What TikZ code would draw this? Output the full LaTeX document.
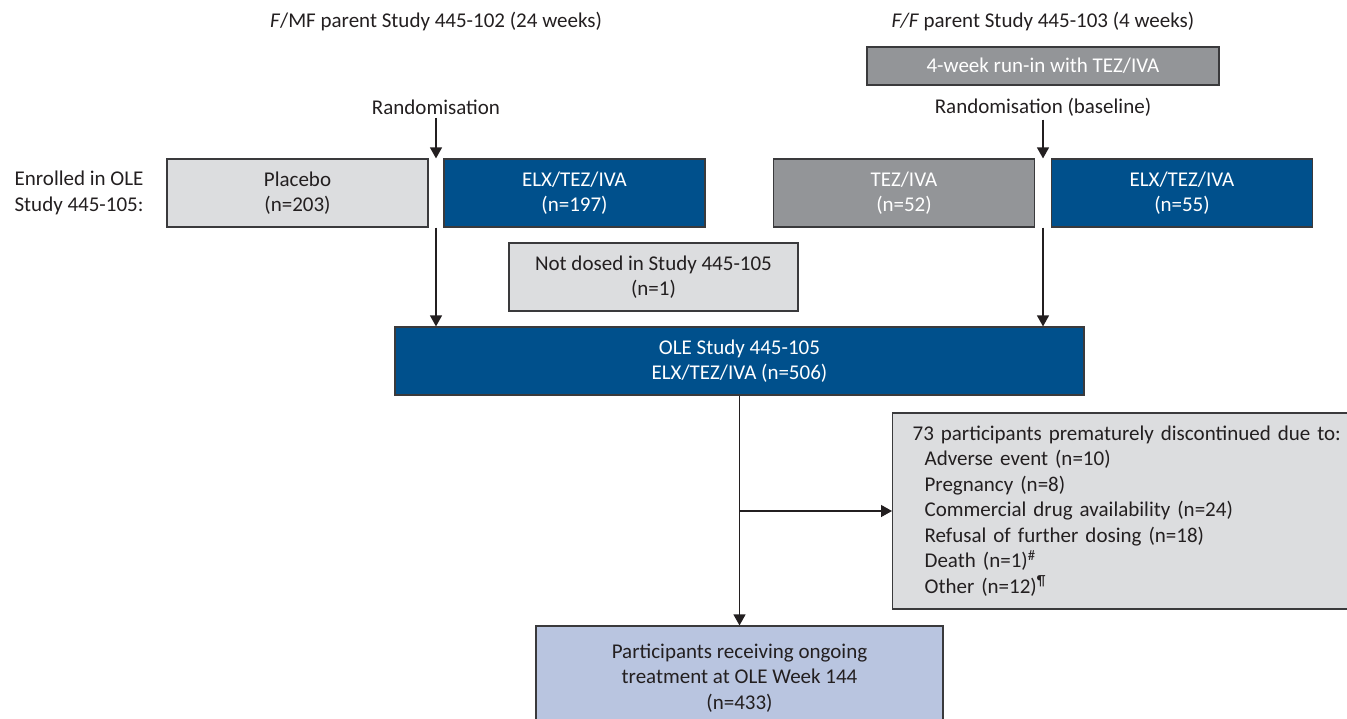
\documentclass[tikz,border=0pt]{standalone}
\usepackage{fontspec}
\setmainfont{Carlito}
\usetikzlibrary{arrows.meta,positioning}
\definecolor{oleblue}{HTML}{00508C}
\definecolor{palegrey}{HTML}{DCDDDF}
\definecolor{midgrey}{HTML}{939598}
\definecolor{paleblue}{HTML}{B9C5E0}
\definecolor{txtgrey}{HTML}{231F20}
\definecolor{edgegrey}{HTML}{3A3A3C}
\begin{document}
\begin{tikzpicture}[x=1pt,y=-1pt,
	every node/.style={font=\fontsize{21}{25.5}\selectfont, text=txtgrey},
	box/.style={draw=edgegrey, line width=1.2pt, align=center, inner sep=0pt, minimum width=261pt, minimum height=68pt},
	bluebox/.style={box, fill=oleblue, text=white},
	greybox/.style={box, fill=palegrey},
	darkbox/.style={box, fill=midgrey, text=white},
	arr/.style={draw=txtgrey, line width=1.3pt, -{Triangle[width=12pt,length=11pt]}}]
	\useasboundingbox (0,0) rectangle (1347,718);
	% parent studies
	\node (fmf) at (436,22) {\textit{F}/MF parent Study 445-102 (24 weeks)};
	\node (ff) at (1043,22) {\textit{F/F} parent Study 445-103 (4 weeks)};
	\node[darkbox, minimum width=352pt, minimum height=38pt] (runin) at (1043,66) {4-week run-in with TEZ/IVA};
	\node (rand1) at (436,107) {Randomisation};
	\node (rand2) at (1043,107) {Randomisation (baseline)};
	\node[align=right, anchor=east] (enrol) at (147,193) {Enrolled in OLE\\Study 445-105:};
	\node[greybox] (placebo) at (297.5,193) {Placebo\\(n=203)};
	\node[bluebox] (elx1) at (574.5,193) {ELX/TEZ/IVA\\(n=197)};
	\node[darkbox] (tez) at (904,193) {TEZ/IVA\\(n=52)};
	\node[bluebox] (elx2) at (1182,193) {ELX/TEZ/IVA\\(n=55)};
	\node[greybox, minimum width=289pt] (nodose) at (653.5,277) {Not dosed in Study 445-105\\(n=1)};
	\node[bluebox, minimum width=689pt] (ole) at (739.5,361) {OLE Study 445-105\\ELX/TEZ/IVA (n=506)};
	\node[greybox, anchor=west, align=left, text width=440pt, inner xsep=20pt, minimum height=196pt] (disc) at (892,511) {73 participants prematurely discontinued due to:\\
		\hspace*{12pt}Adverse event (n=10)\\
		\hspace*{12pt}Pregnancy (n=8)\\
		\hspace*{12pt}Commercial drug availability (n=24)\\
		\hspace*{12pt}Refusal of further dosing (n=18)\\
		\hspace*{12pt}Death (n=1)\textsuperscript{\#}\\
		\hspace*{12pt}Other (n=12)\textsuperscript{¶}};
	\node[box, fill=paleblue, minimum width=407pt, minimum height=104pt] (final) at (739.5,678) {Participants receiving ongoing\\treatment at OLE Week 144\\(n=433)};
	% connectors
	\draw[arr] (rand1.south) -- (rand1 |- placebo.north);
	\draw[arr] (rand2.south) -- (rand2 |- tez.north);
	\draw[arr] (rand1 |- placebo.south) -- (rand1 |- ole.north);
	\draw[arr] (rand2 |- tez.south) -- (rand2 |- ole.north);
	\draw[arr] (ole.south) -- (final.north);
	\draw[arr] (ole.south |- disc.west) -- (disc.west);
\end{tikzpicture}
\end{document}
